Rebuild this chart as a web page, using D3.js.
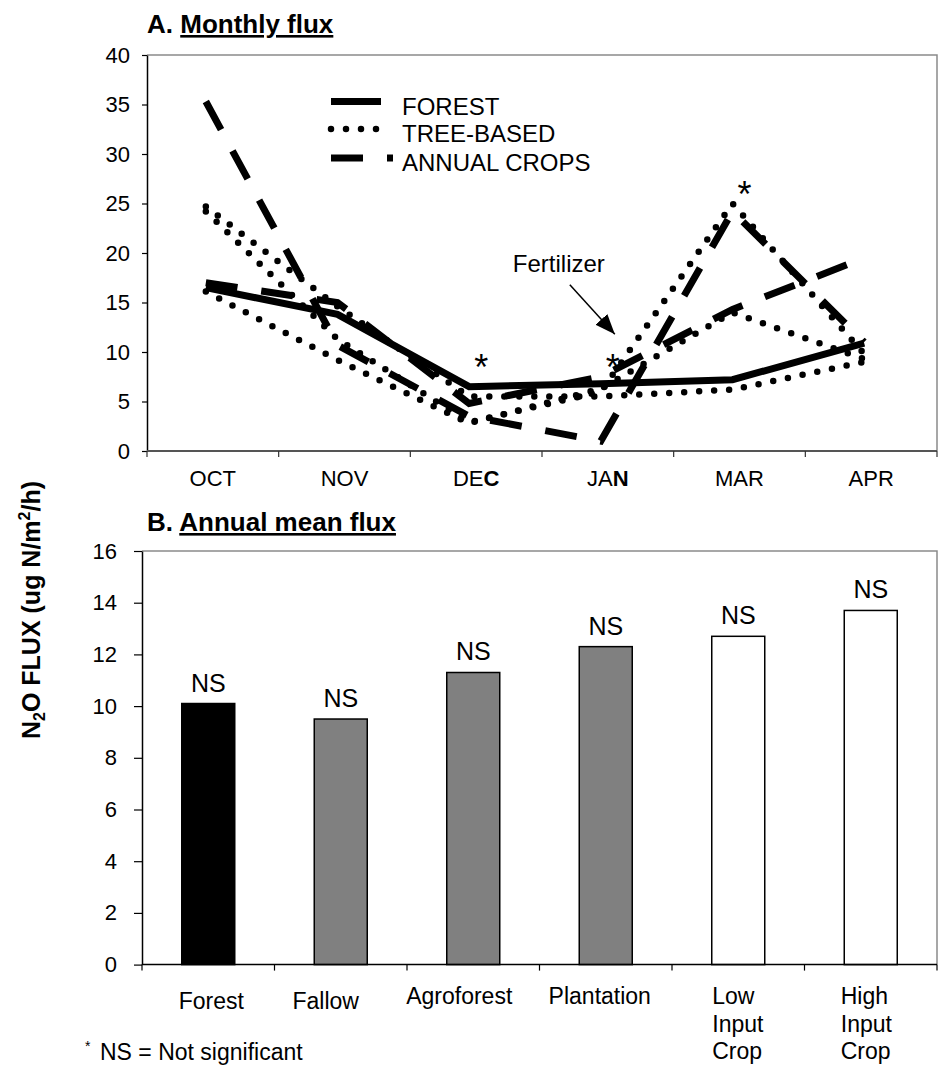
<!DOCTYPE html>
<html>
<head>
<meta charset="utf-8">
<script src="https://cdn.jsdelivr.net/npm/d3@7"></script>
<style>
body { margin: 0; background: #fff; }
text { font-family: "Liberation Sans", Arial, sans-serif; fill: #000; }
</style>
</head>
<body>
<svg id="chart" width="943" height="1066"></svg>
<script>
// ---- Panel A: monthly flux ----
var months = ["OCT", "NOV", "DEC", "JAN", "MAR", "APR"];
var forestFlux     = [16.5, 13.8, 6.5, 6.8, 7.2, 10.9];
var fallowFlux     = [16.1, 9.2, 2.8, 6.3, 14.0, 9.3];
var agroforestFlux = [24.7, 14.6, 5.5, 5.5, 6.2, 9.0];
var plantationFlux = [24.2, 11.3, 2.9, 6.0, 25.0, 9.8];
var lowInputFlux   = [17.0, 15.0, 4.8, 7.5, 14.3, 19.5];
var highInputFlux  = [35.3, 10.7, 3.5, 1.0, 24.2, 11.0];
var yTicksA = [0, 5, 10, 15, 20, 25, 30, 35, 40];
var legendNames = ["FOREST", "TREE-BASED", "ANNUAL CROPS"];
var starMonths = ["DEC", "JAN", "MAR"];
var starValues = [9.2, 9.2, 26.7];

// ---- Panel B: annual mean flux ----
var systems = ["Forest", "Fallow", "Agroforest", "Plantation", "Low Input Crop", "High Input Crop"];
var systemGroup = ["forest", "tree", "tree", "tree", "crop", "crop"];
var meanFlux = [10.1, 9.5, 11.3, 12.3, 12.7, 13.7];
var sigLabels = ["NS", "NS", "NS", "NS", "NS", "NS"];
var yTicksB = [0, 2, 4, 6, 8, 10, 12, 14, 16];

var svg = d3.select('#chart');

// line styles for the three legend groups
var lineStyle = {
    solid:  {w: 7, dash: null, cap: 'butt'},
    dotted: {w: 6.5, dash: '0,15', cap: 'round'},
    dashed: {w: 7, dash: '32,24', cap: 'butt'}
};

var series = [
    {vals: forestFlux, kind: 'solid'},
    {vals: fallowFlux, kind: 'dotted'},
    {vals: agroforestFlux, kind: 'dotted'},
    {vals: plantationFlux, kind: 'dotted'},
    {vals: lowInputFlux, kind: 'dashed'},
    {vals: highInputFlux, kind: 'dashed'}
];

// ================= Panel A =================
var A = {l: 147, r: 937, t: 55, b: 451};
var xA = d3.scaleBand().domain(months).range([A.l, A.r]);
var yA = d3.scaleLinear().domain([0, 40]).range([A.b, A.t]);
// points sit a little left of the band centre, as in the original
var xPt = function(m) { return xA(m) + xA.bandwidth() / 2 - 7; };

var gA = svg.append('g');

// frame (grey top and right)
gA.append('path')
    .attr('d', 'M' + A.l + ',' + A.t + 'H' + A.r + 'V' + A.b)
    .attr('fill', 'none').attr('stroke', '#8a8a8a').attr('stroke-width', 1.5);

// y axis
var yAxisA = gA.append('g')
    .attr('transform', 'translate(' + A.l + ',0)')
    .call(d3.axisLeft(yA).tickValues(yTicksA).tickSize(5).tickSizeOuter(0).tickPadding(12));
yAxisA.select('.domain').attr('stroke', '#000').attr('stroke-width', 1.5);
yAxisA.selectAll('.tick line').attr('stroke', '#000').attr('stroke-width', 1.2);
yAxisA.selectAll('text').style('font-size', '22px').style('font-family', '"Liberation Sans", Arial, sans-serif');

// x axis
gA.append('line')
    .attr('x1', A.l).attr('x2', A.r).attr('y1', A.b).attr('y2', A.b)
    .attr('stroke', '#555').attr('stroke-width', 1.8);
gA.selectAll('.xtickA')
    .data(d3.range(months.length + 1)).enter()
    .append('line')
    .attr('x1', d => A.l + d * xA.step()).attr('x2', d => A.l + d * xA.step())
    .attr('y1', A.b).attr('y2', A.b + 6)
    .attr('stroke', '#333').attr('stroke-width', 1.2);

var monthLab = gA.selectAll('.monthLab')
    .data(months).enter()
    .append('text')
    .attr('x', d => xA(d) + xA.bandwidth() / 2)
    .attr('y', A.b + 35)
    .attr('text-anchor', 'middle')
    .style('font-size', '22px');
// the last letter of DEC and JAN is bold in the original
monthLab.each(function(d) {
    var t = d3.select(this);
    if (d === 'DEC' || d === 'JAN') {
        t.append('tspan').text(d.slice(0, 2));
        t.append('tspan').style('font-weight', 'bold').text(d.slice(2));
    } else {
        t.text(d);
    }
});

// lines
var lineGen = d3.line()
    .x((d, i) => xPt(months[i]))
    .y(d => yA(d));

series.forEach(function(s) {
    var st = lineStyle[s.kind];
    gA.append('path')
        .datum(s.vals)
        .attr('d', lineGen)
        .attr('fill', 'none')
        .attr('stroke', '#000')
        .attr('stroke-width', st.w)
        .attr('stroke-linecap', st.cap)
        .attr('stroke-linejoin', 'miter')
        .attr('stroke-dasharray', st.dash);
});

// asterisks
gA.selectAll('.star')
    .data(starMonths).enter()
    .append('text')
    .attr('x', d => xPt(d) + 12)
    .attr('y', (d, i) => yA(starValues[i]) + 20)
    .attr('text-anchor', 'middle')
    .style('font-size', '36px')
    .text('*');

// fertilizer arrow
svg.append('defs').append('marker')
    .attr('id', 'arrowhead')
    .attr('viewBox', '0 -8 20 16')
    .attr('refX', 20).attr('refY', 0)
    .attr('markerWidth', 20).attr('markerHeight', 16)
    .attr('markerUnits', 'userSpaceOnUse')
    .attr('orient', 'auto')
    .append('path')
    .attr('d', 'M0,-8L20,0L0,8Z')
    .attr('fill', '#000');

gA.append('line')
    .attr('x1', xPt('JAN') - 31).attr('y1', yA(16.8))
    .attr('x2', xPt('JAN') + 14).attr('y2', yA(11.8))
    .attr('stroke', '#000').attr('stroke-width', 1.5)
    .attr('marker-end', 'url(#arrowhead)');
gA.append('text')
    .attr('x', xPt('JAN') - 88).attr('y', yA(18.1))
    .style('font-size', '24px')
    .text('Fertilizer');

// legend
var legX = 331, legY = [101.5, 129, 158];
var legKinds = ['solid', 'dotted', 'dashed'];
var legLen = [50, 48, 62];
legendNames.forEach(function(name, i) {
    var st = lineStyle[legKinds[i]];
    gA.append('line')
        .attr('x1', legX).attr('x2', legX + legLen[i])
        .attr('y1', legY[i]).attr('y2', legY[i])
        .attr('stroke', '#000').attr('stroke-width', st.w)
        .attr('stroke-linecap', st.cap)
        .attr('stroke-dasharray', st.dash);
    gA.append('text')
        .attr('x', 402).attr('y', legY[i] + 13)
        .style('font-size', '24px')
        .text(name);
});

// title A
var titleA = svg.append('text').attr('x', 147).attr('y', 33)
    .style('font-size', '26px').style('font-weight', 'bold');
titleA.append('tspan').text('A. ');
titleA.append('tspan').style('text-decoration', 'underline').text('Monthly flux');

// ================= Panel B =================
var B = {l: 142, r: 937, t: 551, b: 964.6};
var xB = d3.scaleBand().domain(systems).range([B.l, B.r]).paddingInner(0.6).paddingOuter(0.3);
var yB = d3.scaleLinear().domain([0, 16]).range([B.b, B.t]);
var barFill = {forest: '#000', tree: '#808080', crop: '#fff'};

var gB = svg.append('g');

gB.append('path')
    .attr('d', 'M' + B.l + ',' + B.t + 'H' + B.r + 'V' + B.b)
    .attr('fill', 'none').attr('stroke', '#8a8a8a').attr('stroke-width', 1.5);

var yAxisB = gB.append('g')
    .attr('transform', 'translate(' + B.l + ',0)')
    .call(d3.axisLeft(yB).tickValues(yTicksB).tickSize(8).tickSizeOuter(0).tickPadding(17));
yAxisB.select('.domain').attr('stroke', '#000').attr('stroke-width', 1.5);
yAxisB.selectAll('.tick line').attr('stroke', '#000').attr('stroke-width', 1.2);
yAxisB.selectAll('text').style('font-size', '22px').style('font-family', '"Liberation Sans", Arial, sans-serif');

gB.selectAll('.bar')
    .data(systems).enter()
    .append('rect')
    .attr('x', d => xB(d))
    .attr('width', xB.bandwidth())
    .attr('y', (d, i) => yB(meanFlux[i]))
    .attr('height', (d, i) => yB(0) - yB(meanFlux[i]))
    .attr('fill', (d, i) => barFill[systemGroup[i]])
    .attr('stroke', '#000').attr('stroke-width', 1.5);

gB.selectAll('.sig')
    .data(systems).enter()
    .append('text')
    .attr('x', d => xB(d) + xB.bandwidth() / 2)
    .attr('y', (d, i) => yB(meanFlux[i]) - 12)
    .attr('text-anchor', 'middle')
    .style('font-size', '25px')
    .text((d, i) => sigLabels[i]);

gB.append('line')
    .attr('x1', B.l).attr('x2', B.r).attr('y1', B.b).attr('y2', B.b)
    .attr('stroke', '#000').attr('stroke-width', 1.5);
gB.selectAll('.xtickB')
    .data(d3.range(systems.length + 1)).enter()
    .append('line')
    .attr('x1', d => B.l + d * xB.step()).attr('x2', d => B.l + d * xB.step())
    .attr('y1', B.b).attr('y2', B.b + 6)
    .attr('stroke', '#000').attr('stroke-width', 1.2);

// category labels, placed roughly as the original's wrapped labels
var labShift = [3, -15, -14, -6, -26, -30];
var labBase = [1009, 1009, 1004, 1004, 1004, 1004];
systems.forEach(function(name, i) {
    var cx = xB(name) + xB.bandwidth() / 2 + labShift[i];
    var words = name.split(' ');
    var t = gB.append('text')
        .attr('x', cx).attr('y', labBase[i])
        .attr('text-anchor', words.length > 1 ? 'start' : 'middle')
        .style('font-size', '23px');
    words.forEach(function(w, j) {
        t.append('tspan').attr('x', cx).attr('dy', j === 0 ? 0 : 27.5).text(w);
    });
});

// title B
var titleB = svg.append('text').attr('x', 147).attr('y', 531)
    .style('font-size', '26px').style('font-weight', 'bold');
titleB.append('tspan').text('B. ');
titleB.append('tspan').style('text-decoration', 'underline').text('Annual mean flux');

// footnote
var foot = svg.append('text').attr('x', 85).attr('y', 1060).style('font-size', '23px');
foot.append('tspan').style('font-size', '14px').attr('dy', -9).text('*');
foot.append('tspan').attr('x', 100).attr('dy', 9).text('NS = Not significant');

// shared y title
var yTitle = svg.append('text')
    .attr('transform', 'translate(40,610) rotate(-90)')
    .attr('text-anchor', 'middle')
    .style('font-size', '25px').style('font-weight', 'bold');
yTitle.append('tspan').text('N');
yTitle.append('tspan').style('font-size', '16px').attr('dy', 5).text('2');
yTitle.append('tspan').attr('dy', -5).text('O FLUX (ug N/m');
yTitle.append('tspan').style('font-size', '16px').attr('dy', -10).text('2');
yTitle.append('tspan').attr('dy', 10).text('/h)');
</script>
</body>
</html>
